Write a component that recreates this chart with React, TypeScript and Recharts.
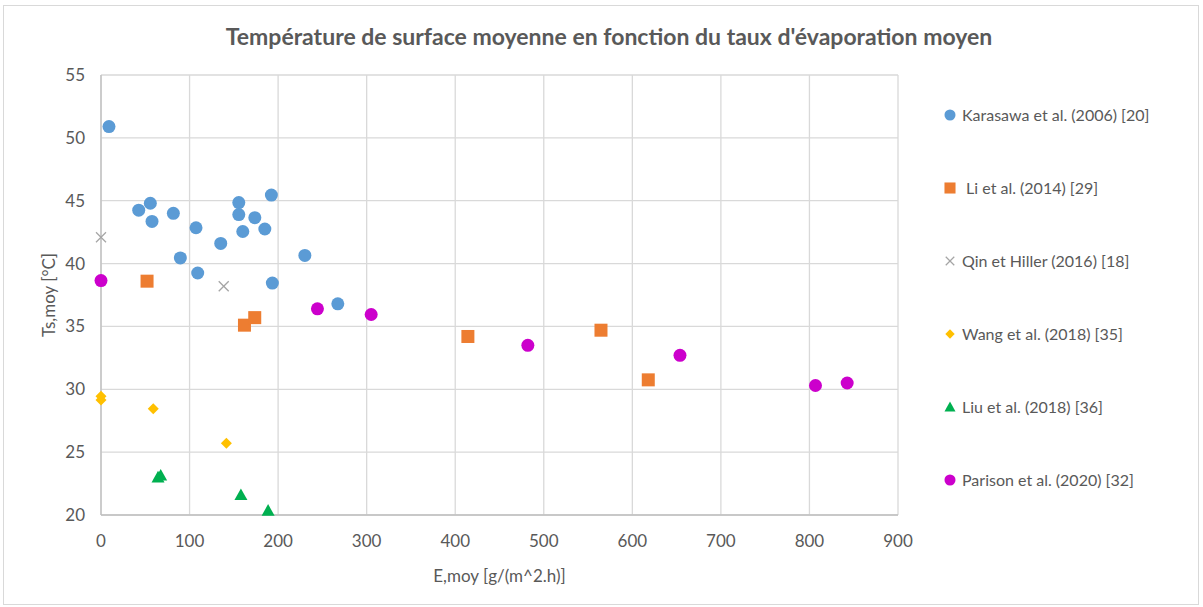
import React from 'react';
import { ScatterChart, Scatter, XAxis, YAxis, CartesianGrid, Legend } from 'recharts';

const title = "Température de surface moyenne en fonction du taux d'évaporation moyen";
const xLabel = 'E,moy [g/(m^2.h)]';
const yLabel = 'Ts,moy [°C]';
const xTicks = [0, 100, 200, 300, 400, 500, 600, 700, 800, 900];
const yTicks = [20, 25, 30, 35, 40, 45, 50, 55];

const seriesNames = [
  'Karasawa et al. (2006) [20]',
  ' Li et al. (2014) [29]',
  'Qin et Hiller (2016) [18]',
  'Wang et al. (2018) [35]',
  'Liu et al. (2018) [36]',
  'Parison et al. (2020) [32]',
];
const seriesColors = ['#5B9BD5', '#ED7D31', '#A5A5A5', '#FFC000', '#00B050', '#CC00CC'];
const seriesShapes = ['circle', 'square', 'x', 'diamond', 'triangle', 'circle'];

const karasawaX = [9, 42.6, 55.7, 57.6, 81.7, 107.3, 89.6, 109.2, 135.2, 155.6, 155.6, 160.1, 173.7, 185, 192.4, 193.5, 230.2, 267.4];
const karasawaY = [50.9, 44.25, 44.8, 43.35, 44.0, 42.85, 40.45, 39.25, 41.6, 44.85, 43.9, 42.55, 43.65, 42.75, 45.45, 38.45, 40.65, 36.8];
const liX = [52, 162, 173.6, 414.3, 564.6, 618];
const liY = [38.6, 35.1, 35.7, 34.2, 34.7, 30.75];
const qinX = [0, 138.6];
const qinY = [42.1, 38.2];
const wangX = [0, 0, 59, 141.6];
const wangY = [29.45, 29.15, 28.45, 25.7];
const liuX = [64.4, 67.4, 158, 188.7];
const liuY = [23.0, 23.15, 21.6, 20.35];
const parisonX = [0, 244.4, 305.1, 482, 653.8, 806.8, 842.6];
const parisonY = [38.65, 36.4, 35.95, 33.5, 32.7, 30.3, 30.5];

const seriesX = [karasawaX, liX, qinX, wangX, liuX, parisonX];
const seriesY = [karasawaY, liY, qinY, wangY, liuY, parisonY];

const FONT = 'Lato, "Open Sans", sans-serif';
const TEXT_COLOR = '#595959';

function drawMarker(kind: string, cx: number, cy: number, color: string, scale = 1) {
  if (kind === 'circle') {
    return <circle cx={cx} cy={cy} r={6.5 * scale} fill={color} />;
  }
  if (kind === 'square') {
    const s = 6.5 * scale;
    return <rect x={cx - s} y={cy - s} width={2 * s} height={2 * s} fill={color} />;
  }
  if (kind === 'diamond') {
    const s = 5.5 * scale;
    return <polygon points={`${cx},${cy - s} ${cx + s},${cy} ${cx},${cy + s} ${cx - s},${cy}`} fill={color} />;
  }
  if (kind === 'triangle') {
    const s = 6.5 * scale;
    return <polygon points={`${cx},${cy - s} ${cx + s},${cy + s * 0.8} ${cx - s},${cy + s * 0.8}`} fill={color} />;
  }
  const s = 5 * scale;
  return (
    <g stroke={color} strokeWidth={1.3}>
      <line x1={cx - s} y1={cy - s} x2={cx + s} y2={cy + s} />
      <line x1={cx - s} y1={cy + s} x2={cx + s} y2={cy - s} />
    </g>
  );
}

const makeShape = (kind: string, color: string) => (props: any) => {
  const { cx, cy } = props;
  if (cx == null || cy == null) return <g />;
  return drawMarker(kind, cx, cy, color);
};

const LegendContent = (props: any) => {
  const payload = [...(props.payload || [])].sort(
    (a: any, b: any) => seriesNames.indexOf(a.value) - seriesNames.indexOf(b.value)
  );
  return (
    <div style={{ fontFamily: FONT, fontSize: 16, color: TEXT_COLOR }}>
      {payload.map((entry: any, i: number) => {
        const idx = seriesNames.indexOf(entry.value);
        const kind = seriesShapes[idx] || 'circle';
        const color = seriesColors[idx] || entry.color;
        return (
          <div key={i} style={{ height: 73, display: 'flex', alignItems: 'flex-start', whiteSpace: 'pre' }}>
            <svg width={18} height={20} style={{ marginRight: 2 }}>
              {drawMarker(kind, 8, 10, color, 0.85)}
            </svg>
            <span style={{ lineHeight: '20px' }}>{entry.value}</span>
          </div>
        );
      })}
    </div>
  );
};

export default function App() {
  return (
    <div style={{ position: 'absolute', left: 0, top: 0, width: 1203, height: 607, background: '#fff' }}>
      <div style={{ position: 'absolute', left: 3, top: 5, width: 1196, height: 600, border: '1px solid #D9D9D9', boxSizing: 'border-box' }} />
      <div style={{ position: 'absolute', left: 0, top: 22, width: 1218, textAlign: 'center', fontFamily: FONT, fontWeight: 700, fontSize: 23, color: TEXT_COLOR }}>
        {title}
      </div>
      <div style={{ position: 'absolute', left: 0, top: 0 }}>
        <ScatterChart width={1203} height={607} margin={{ top: 75, right: 50, bottom: 32, left: 20 }}>
          <CartesianGrid stroke="#D9D9D9" strokeWidth={1.3} />
          <XAxis
            type="number"
            dataKey="x"
            domain={[0, 900]}
            ticks={xTicks}
            interval={0}
            tickLine={false}
            tickSize={0}
            tickMargin={20}
            axisLine={{ stroke: '#BFBFBF', strokeWidth: 1.3 }}
            tick={{ fill: TEXT_COLOR, fontSize: 17, fontFamily: FONT }}
            height={60}
            label={{ value: xLabel, position: 'insideBottom', offset: -7, fill: TEXT_COLOR, fontSize: 17, fontFamily: FONT }}
          />
          <YAxis
            type="number"
            dataKey="y"
            domain={[20, 55]}
            ticks={yTicks}
            interval={0}
            tickLine={false}
            tickSize={0}
            tickMargin={16}
            axisLine={{ stroke: '#BFBFBF', strokeWidth: 1.3 }}
            tick={{ fill: TEXT_COLOR, fontSize: 17, fontFamily: FONT }}
            width={81}
            label={{ value: yLabel, angle: -90, position: 'center', dx: -12, fill: TEXT_COLOR, fontSize: 17, fontFamily: FONT }}
          />
          <Legend
            layout="vertical"
            align="right"
            verticalAlign="top"
            content={LegendContent}
            wrapperStyle={{ left: 942, top: 105, width: 255 }}
          />
          {seriesNames.map((name, i) => (
            <Scatter
              key={name}
              name={name}
              data={seriesX[i].map((x, j) => ({ x, y: seriesY[i][j] }))}
              fill={seriesColors[i]}
              shape={makeShape(seriesShapes[i], seriesColors[i])}
              isAnimationActive={false}
            />
          ))}
        </ScatterChart>
      </div>
    </div>
  );
}
